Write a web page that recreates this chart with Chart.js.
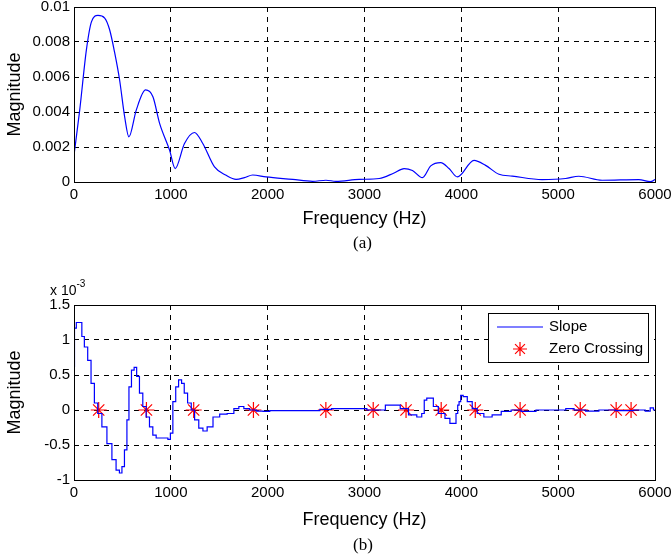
<!DOCTYPE html>
<html>
<head>
<meta charset="utf-8">
<script src="https://cdn.jsdelivr.net/npm/chart.js@4/dist/chart.umd.min.js"></script>
<style>
  body { margin: 0; background: #fff; width: 672px; height: 556px; position: relative; overflow: hidden; }
  canvas { position: absolute; left: 0; }
  .cap { position: absolute; font-family: "Liberation Serif", "DejaVu Serif", serif; font-size: 17px; color: #000; }
  .exp { position: absolute; font-family: "Liberation Sans", Arial, sans-serif; font-size: 14px; color: #000; }
</style>
</head>
<body>
<canvas id="topChart" width="672" height="240" style="top:0"></canvas>
<div class="cap" style="left:353px; top:233px;">(a)</div>
<canvas id="bottomChart" width="672" height="256" style="top:280px"></canvas>
<div class="exp" style="left:50px; top:280px;">x 10<sup style="font-size:10px; position:relative; top:-2px;">-3</sup></div>
<div class="cap" style="left:353px; top:535px;">(b)</div>
<script>
// (a) magnitude spectrum
const freqTop = [0, 59, 128, 180, 247, 317, 368, 421, 471, 523, 567, 643, 739, 815, 884, 987, 1045,
  1141, 1244, 1330, 1451, 1571, 1674, 1760, 1845, 1983, 2258, 2464, 2602, 2705, 2945, 3152, 3300,
  3409, 3495, 3598, 3684, 3787, 3873, 3959, 4131, 4251, 4389, 4526, 4835, 5076, 5213, 5454, 5832, 5953, 6000];
const magTop = [0.00153, 0.00411, 0.00755, 0.00915, 0.00952, 0.00937, 0.0087, 0.00736, 0.00583, 0.00373, 0.00258,
  0.00411, 0.00526, 0.00487, 0.00335, 0.00182, 0.00077,
  0.0022, 0.00283, 0.0022, 0.00086, 0.00038, 0.00015, 0.00025, 0.0004, 0.00029, 0.00015, 0.00004, 0.0001, 0.00004, 0.00015, 0.0002, 0.0005,
  0.00077, 0.00066, 0.00025, 0.00092, 0.00111, 0.00077, 0.00029, 0.00124, 0.00095, 0.00044, 0.00034, 0.00014, 0.0002, 0.00033, 0.0001, 0.00014, 0.00002, 0.00014];

// (b) slope (x 10^-3) and zero crossings
const freqSlope = [0, 10, 38, 72, 90, 124, 159, 193, 228, 262, 314, 366, 417, 452, 486, 504, 538, 555, 580, 607, 635,
  659, 693, 728, 762, 797, 831, 866, 952, 987, 1004, 1038, 1063, 1097, 1125, 1152, 1194, 1228, 1263, 1314, 1349,
  1401, 1470, 1539, 1625, 1677, 1728, 1780, 1849, 1918, 1987, 2056, 2470, 2608, 2711, 2953,
  3096, 3164, 3267, 3335, 3403, 3506, 3574, 3608, 3626, 3660, 3694, 3728, 3797, 3865, 3899, 3933, 3957, 3968, 3985,
  4002, 4036, 4087, 4138, 4190, 4275, 4361, 4463, 4566, 4668, 4874, 5044, 5113, 5215, 5352, 5489, 5694, 5865, 5933, 5968, 6000];
const slopeVals = [0.62, 1.17, 1.25, 1.25, 1.05, 0.9, 0.71, 0.38, 0.1, -0.05, -0.24, -0.48, -0.71, -0.86, -0.9, -0.81, -0.57, -0.14, 0.33, 0.57, 0.61,
  0.48, 0.24, 0.05, -0.1, -0.24, -0.36, -0.4, -0.4, -0.42, -0.33, 0.12, 0.33, 0.43, 0.38, 0.24, 0.1, 0, -0.14, -0.26, -0.3,
  -0.24, -0.1, -0.06, -0.05, 0.02, 0.05, 0.02, 0, -0.015, -0.02, -0.01, -0.01, 0.01, 0.02, 0.02,
  0, 0, 0.07, 0.07, 0.02, -0.07, -0.1, -0.05, 0.14, 0.17, 0.17, 0.05, -0.05, -0.12, -0.19, -0.19, -0.05, 0.07, 0.12,
  0.21, 0.19, 0.12, 0.02, -0.05, -0.1, -0.07, -0.02, 0, -0.02, 0, 0, 0.02, 0, -0.015, 0, -0.01, 0, -0.015, 0.03, 0];
const zeroFreqs = [255, 748, 1236, 1853, 2601, 3090, 3429, 3792, 4144, 4607, 5228, 5599, 5753];

const freqTicks = [0, 1000, 2000, 3000, 4000, 5000, 6000];

const FONT = "'Liberation Sans', Arial, sans-serif";

// box around the plot area
const boxPlugin = {
  id: 'box',
  afterDraw(chart) {
    const { ctx, chartArea: a } = chart;
    ctx.save();
    ctx.strokeStyle = '#000';
    ctx.lineWidth = 1;
    ctx.strokeRect(a.left + 0.5, a.top + 0.5, a.right - a.left, a.bottom - a.top);
    ctx.restore();
  }
};

function xScale(height, titleBottom) {
  return {
    type: 'linear', min: 0, max: 6000,
    afterBuildTicks: s => { s.ticks = freqTicks.map(v => ({ value: v })); },
    afterFit: s => { s.height = height; s.paddingLeft = 0; s.paddingRight = 0; },
    grid: { color: '#000', lineWidth: 1, drawTicks: false },
    border: { display: false, dash: [5, 5] },
    ticks: { color: '#000', font: { family: FONT, size: 15 }, padding: 4, maxRotation: 0, callback: v => String(v) },
    title: { display: true, text: 'Frequency (Hz)', color: '#000', font: { family: FONT, size: 18 }, padding: { top: 0, bottom: titleBottom } }
  };
}

function yScale(min, max, step, fmt) {
  return {
    min: min, max: max,
    ticks: { stepSize: step, color: '#000', font: { family: FONT, size: 15 }, padding: 4, callback: fmt },
    afterFit: s => { s.width = 74; s.paddingTop = 0; s.paddingBottom = 0; },
    grid: { color: '#000', lineWidth: 1, drawTicks: false },
    border: { display: false, dash: [5, 5] },
    title: { display: true, text: 'Magnitude', color: '#000', font: { family: FONT, size: 18 }, padding: { top: 4, bottom: 2 } }
  };
}

new Chart(document.getElementById('topChart'), {
  type: 'line',
  data: {
    datasets: [{
      data: freqTop.map((f, i) => ({ x: f, y: magTop[i] })),
      borderColor: '#0000ff',
      borderWidth: 1.2,
      pointRadius: 0,
      cubicInterpolationMode: 'monotone'
    }]
  },
  options: {
    responsive: false,
    animation: false,
    layout: { padding: { top: 7, right: 17, left: 0, bottom: 0 } },
    plugins: { legend: { display: false }, tooltip: { enabled: false } },
    scales: {
      x: xScale(58, 10),
      y: yScale(0, 0.01, 0.002, v => v === 0 ? '0' : String(+v.toFixed(3)))
    }
  },
  plugins: [boxPlugin]
});

const legendPlugin = {
  id: 'boxLegend',
  afterDraw(chart) {
    const { ctx } = chart;
    const x0 = 488, y0 = 313 - 280, w = 160, h = 49;
    ctx.save();
    ctx.fillStyle = '#fff';
    ctx.fillRect(x0, y0, w, h);
    ctx.strokeStyle = '#000';
    ctx.lineWidth = 1;
    ctx.strokeRect(x0 + 0.5, y0 + 0.5, w, h);
    ctx.strokeStyle = '#0000ff';
    ctx.lineWidth = 1.2;
    ctx.beginPath();
    ctx.moveTo(497, y0 + 14);
    ctx.lineTo(543, y0 + 14);
    ctx.stroke();
    // star marker
    const cx = 520, cy = y0 + 36, r = 7;
    ctx.strokeStyle = '#ff0000';
    ctx.beginPath();
    for (let k = 0; k < 4; k++) {
      const ang = k * Math.PI / 4;
      ctx.moveTo(cx - r * Math.cos(ang), cy - r * Math.sin(ang));
      ctx.lineTo(cx + r * Math.cos(ang), cy + r * Math.sin(ang));
    }
    ctx.stroke();
    ctx.fillStyle = '#000';
    ctx.font = '15px ' + FONT;
    ctx.textBaseline = 'middle';
    ctx.fillText('Slope', 549, y0 + 14);
    ctx.fillText('Zero Crossing', 549, y0 + 36);
    ctx.restore();
  }
};

new Chart(document.getElementById('bottomChart'), {
  type: 'line',
  data: {
    datasets: [{
      label: 'Slope',
      data: freqSlope.map((f, i) => ({ x: f, y: slopeVals[i] })),
      borderColor: '#0000ff',
      borderWidth: 1.2,
      pointRadius: 0,
      stepped: 'middle'
    }, {
      label: 'Zero Crossing',
      data: zeroFreqs.map(f => ({ x: f, y: 0 })),
      showLine: false,
      pointStyle: 'star',
      pointRadius: 8,
      borderColor: '#ff0000',
      borderWidth: 1.2
    }]
  },
  options: {
    responsive: false,
    animation: false,
    layout: { padding: { top: 25, right: 17, left: 0, bottom: 0 } },
    plugins: { legend: { display: false }, tooltip: { enabled: false } },
    scales: {
      x: xScale(56, 5),
      y: yScale(-1, 1.5, 0.5, v => String(v))
    }
  },
  plugins: [boxPlugin, legendPlugin]
});
</script>
</body>
</html>
